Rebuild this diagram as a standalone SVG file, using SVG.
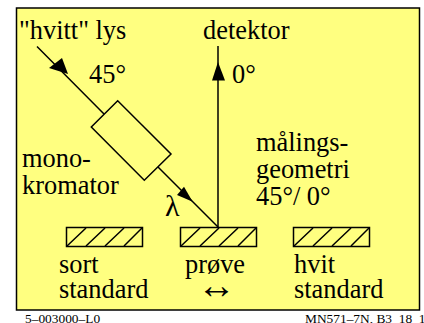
<svg xmlns="http://www.w3.org/2000/svg" width="424" height="323" viewBox="0 0 424 323">
<style>
text{font-family:"Liberation Serif","Times New Roman",serif;font-size:26.4px;fill:#000}
.s{font-size:13.4px}
.a{font-size:39px}
.m{font-size:30px}
.l{fill:none;stroke:#000;stroke-width:1.5}
.box{fill:none;stroke:#000;stroke-width:1.5}
</style>
<rect x="0" y="0" width="424" height="323" fill="#fff"/>
<rect x="16.500" y="8" width="403" height="302" fill="#ffff80" stroke="#000" stroke-width="1.5"/>
<g id="connectors">
<path class="l" d="M37 46.500L104 114M158 167L218 227"/>
<path class="l" d="M218 46V228"/>
<path d="M68 74L62 58L49 68Z"/>
<path d="M192.700 201.700L184 186.700L177 195Z"/>
<path d="M218 62L212 80.500H225Z"/>
</g>
<g id="monokromator">
<path class="box" d="M117.700 100.700L91.300 127L144.300 180.300L171 154Z"/>
<text x="22" y="167">mono-</text>
<text x="22" y="194">kromator</text>
</g>
<g id="sort">
<rect class="box" x="66.500" y="227.500" width="76" height="19"/>
<path class="l" d="M67 246L86 228M86 246L105 228M105 246L124 228M124 246L142 228"/>
<text x="59" y="273">sort</text>
<text x="59" y="298">standard</text>
</g>
<g id="prove">
<rect class="box" x="180.500" y="227.500" width="76" height="19"/>
<path class="l" d="M181 246L200 228M200 246L219 228M219 246L238 228M238 246L256 228"/>
<text x="185" y="273">prøve</text>
<text class="a" x="197" y="298">↔</text>
</g>
<g id="hvit">
<rect class="box" x="293.500" y="227.500" width="76" height="19"/>
<path class="l" d="M294 246L313 228M313 246L332 228M332 246L351 228M351 246L369 228"/>
<text x="294" y="273">hvit</text>
<text x="294" y="298">standard</text>
</g>
<g id="labels">
<text x="19" y="39">"hvitt" lys</text>
<text x="203" y="39">detektor</text>
<text x="89" y="83">45°</text>
<text x="232" y="83">0°</text>
<text class="m" x="165" y="216">λ</text>
<text x="256" y="151">målings-</text>
<text x="256" y="178">geometri</text>
<text x="256" y="205">45°/ 0°</text>
<text class="s" x="25" y="323">5–003000–L0</text>
<text class="s" x="305" y="323">MN571–7N, B3_18_1</text>
</g>
</svg>
